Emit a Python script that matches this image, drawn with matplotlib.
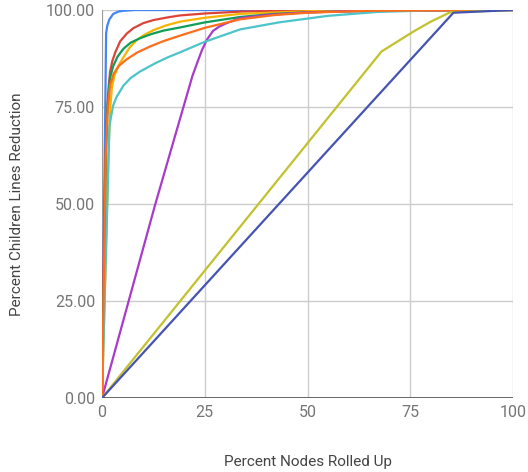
import matplotlib
matplotlib.use("Agg")
import matplotlib.pyplot as plt

# x = percent nodes rolled up, y = percent children lines reduction
blue_x = [0, 1.0, 1.3, 1.8, 2.75, 4, 5.2, 8, 100]
blue_y = [0, 94.0, 96.0, 97.6, 99.0, 99.6, 99.8, 100, 100]

red_x = [0, 0.5, 0.8, 1.1, 1.3, 1.6, 1.95, 2.5, 3.2, 4.4, 6, 7.6, 10, 12.5,
         16, 19, 25, 34, 50, 100]
red_y = [0, 45, 60, 70, 75, 80, 84, 86.8, 89, 91.9, 93.9, 95.3, 96.6, 97.4,
         98.1, 98.6, 99.1, 99.6, 99.9, 100]

yellow_x = [0, 1.5, 1.8, 2.1, 2.4, 3, 4, 5.2, 6.7, 8.4, 10.3, 12.5, 15.5, 19,
            25, 33.6, 50, 100]
yellow_y = [0, 60, 70, 76, 80, 83, 85.6, 87.8, 90.3, 92.2, 93.6, 94.8, 96, 97,
            98, 99, 99.7, 100]

green_x = [0, 1.0, 1.4, 1.95, 2.7, 3.8, 5.2, 7, 9.2, 12, 15, 19, 25, 33.6,
           42, 50, 70, 100]
green_y = [0, 65, 76, 82.4, 85.5, 88, 90, 91.6, 92.7, 93.8, 94.7, 95.5, 96.8,
           98.2, 99, 99.4, 99.9, 100]

purple_x = [0, 12.9, 22, 23.2, 24.3, 25.5, 27, 28.5, 30.3, 33.6, 40, 50, 60, 100]
purple_y = [0, 49.7, 83, 86.5, 89.6, 92.3, 94.6, 95.7, 96.6, 97.9, 98.7, 99.4,
            99.7, 100]

teal_x = [0, 1.8, 2.2, 2.75, 3.5, 5.2, 7, 9.2, 13, 16, 19, 25, 33.6, 43, 55,
          67, 80, 100]
teal_y = [0, 70, 72.5, 75.5, 77.5, 80.5, 82.5, 84.1, 86.3, 87.8, 89.1, 91.8,
          95.0, 96.8, 98.5, 99.5, 99.9, 100]

orange_x = [0, 0.9, 1.3, 1.95, 2.8, 4, 6, 8.5, 11.7, 15, 19, 25, 33.6, 42, 50,
            65, 100]
orange_y = [0, 62, 73, 80.5, 83.5, 85.5, 87.3, 89, 90.6, 92, 93.4, 95.4, 97.6,
            98.7, 99.3, 99.8, 100]

olive_x = [0, 68, 75.7, 80, 84.7, 100]
olive_y = [0, 89.3, 94.4, 97.0, 99.4, 100]

indigo_x = [0, 85.5, 100]
indigo_y = [0, 99.3, 100]

series = [
    (blue_x, blue_y, "#4285f4"),
    (red_x, red_y, "#db4437"),
    (yellow_x, yellow_y, "#f4b400"),
    (green_x, green_y, "#0f9d58"),
    (purple_x, purple_y, "#a93bcb"),
    (teal_x, teal_y, "#4cc4c9"),
    (orange_x, orange_y, "#ff6d1a"),
    (olive_x, olive_y, "#c2c12e"),
    (indigo_x, indigo_y, "#4553b3"),
]

plt.rcParams["font.family"] = ["Roboto", "DejaVu Sans"]

fig = plt.figure(figsize=(5.28, 4.72), dpi=100)
ax = fig.add_axes([102 / 528, 1 - 398 / 472, 411 / 528, 388 / 472])

for xs, ys, c in series:
    ax.plot(xs, ys, color=c, linewidth=1.6, solid_joinstyle="round",
            solid_capstyle="round", zorder=3)

ax.set_xlim(0, 100)
ax.set_ylim(0, 100)
ax.set_xticks([0, 25, 50, 75, 100])
ax.set_yticks([0, 25, 50, 75, 100])
ax.set_yticklabels(["0.00", "25.00", "50.00", "75.00", "100.00"])
ax.grid(True, color="#cccccc", linewidth=1.0, zorder=0)
ax.axvline(0, color="#999999", linewidth=1.4, zorder=2)
ax.axhline(0, color="#666666", linewidth=1.4, zorder=2)
for s in ax.spines.values():
    s.set_visible(False)
ax.tick_params(length=0, labelsize=11.5, colors="#757575", pad=5)
for lbl in ax.get_xticklabels() + ax.get_yticklabels():
    lbl.set_clip_on(False)

ax.set_xlabel("Percent Nodes Rolled Up", fontsize=11, color="#444444", labelpad=25)
ax.set_ylabel("Percent Children Lines Reduction", fontsize=11, color="#444444", labelpad=16)

fig.savefig("out.png", dpi=100, facecolor="white")
